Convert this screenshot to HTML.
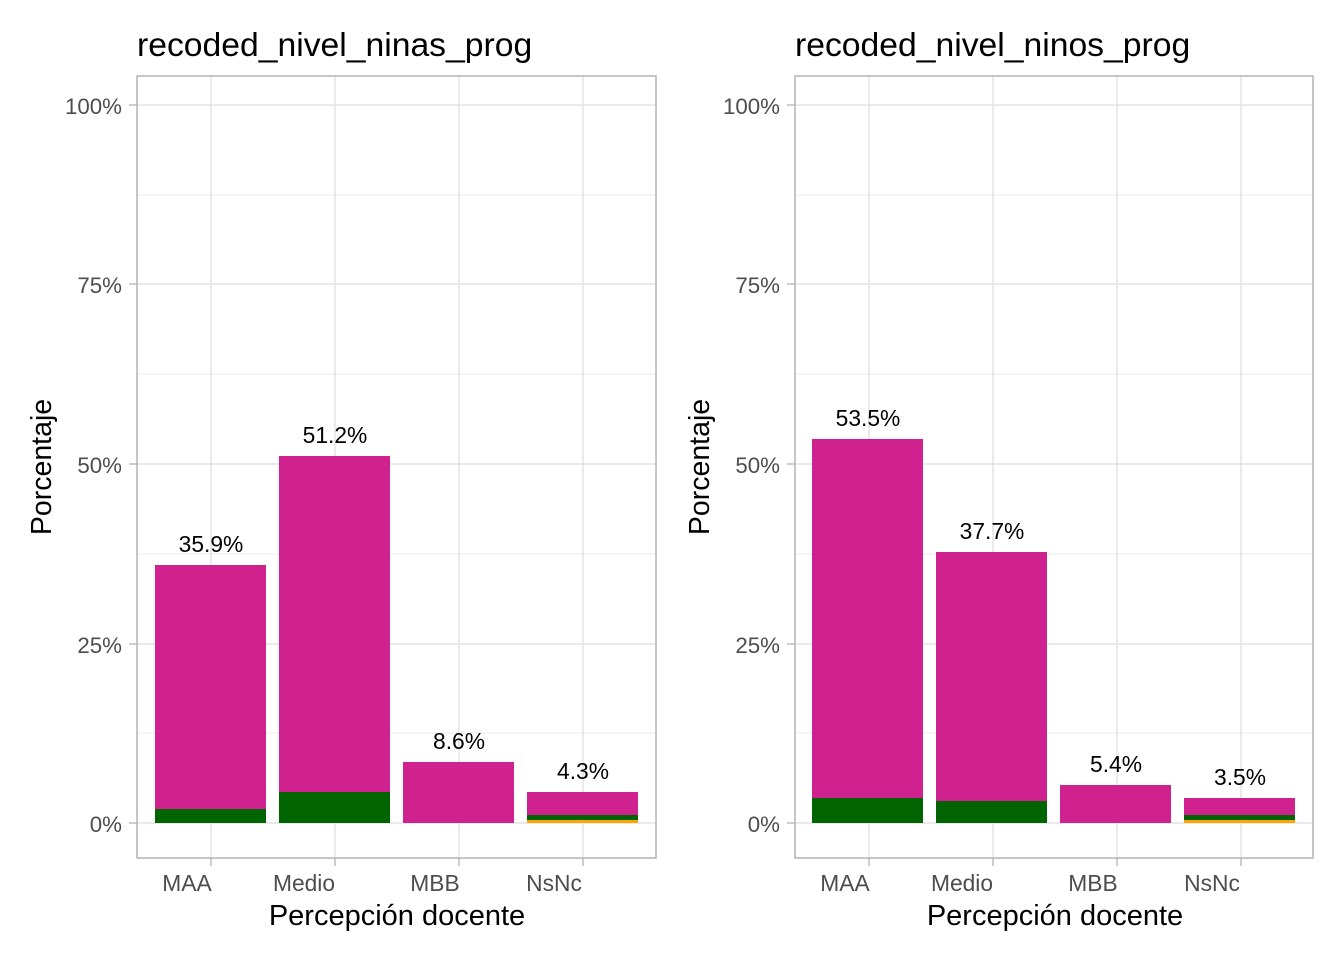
<!DOCTYPE html>
<html><head><meta charset="utf-8"><style>
html,body{margin:0;padding:0;background:#fff;}
svg text{font-family:"Liberation Sans",Arial,sans-serif;}
</style></head><body>
<svg width="1344" height="960" viewBox="0 0 1344 960" xmlns="http://www.w3.org/2000/svg">
<defs>
<g id="frame">
  <g stroke="#ebebeb" stroke-width="1">
    <line x1="137" x2="656" y1="195" y2="195"/><line x1="137" x2="656" y1="374" y2="374"/>
    <line x1="137" x2="656" y1="554" y2="554"/><line x1="137" x2="656" y1="733" y2="733"/>
  </g>
  <g stroke="#dedede" stroke-width="1.3">
    <line x1="137" x2="656" y1="105" y2="105"/><line x1="137" x2="656" y1="284" y2="284"/>
    <line x1="137" x2="656" y1="464" y2="464"/><line x1="137" x2="656" y1="644" y2="644"/>
    <line x1="137" x2="656" y1="823" y2="823"/>
    <line x1="211" x2="211" y1="76" y2="858"/><line x1="335" x2="335" y1="76" y2="858"/>
    <line x1="459" x2="459" y1="76" y2="858"/><line x1="583" x2="583" y1="76" y2="858"/>
  </g>
  <g stroke="#b3b3b3" stroke-width="1.3">
    <line x1="129" x2="137" y1="105" y2="105"/><line x1="129" x2="137" y1="284" y2="284"/>
    <line x1="129" x2="137" y1="464" y2="464"/><line x1="129" x2="137" y1="644" y2="644"/>
    <line x1="129" x2="137" y1="823" y2="823"/>
    <line x1="211" x2="211" y1="858" y2="866"/><line x1="335" x2="335" y1="858" y2="866"/>
    <line x1="459" x2="459" y1="858" y2="866"/><line x1="583" x2="583" y1="858" y2="866"/>
  </g>
  <g fill="#4d4d4d" font-size="22.3" text-anchor="end">
    <text x="122" y="114">100%</text><text x="122" y="293">75%</text>
    <text x="122" y="473">50%</text><text x="122" y="653">25%</text>
    <text x="122" y="832">0%</text>
  </g>
  <g fill="#4d4d4d" font-size="22.8" text-anchor="middle">
    <text x="187" y="891">MAA</text><text x="304" y="891">Medio</text>
    <text x="435" y="891">MBB</text><text x="554" y="891">NsNc</text>
  </g>
  <text x="397" y="925" font-size="29" text-anchor="middle" fill="#000">Percepción docente</text>
  <text transform="translate(51,467) rotate(-90)" font-size="28.5" text-anchor="middle" fill="#000">Porcentaje</text>
</g>
</defs>

<use href="#frame"/>
<text x="137" y="56" font-size="33.7" fill="#000">recoded_nivel_ninas_prog</text>
<g>
  <rect x="155" y="565" width="111" height="258" fill="#d0228f"/>
  <rect x="155" y="809" width="111" height="14" fill="#006400"/>
  <rect x="279" y="456" width="111" height="367" fill="#d0228f"/>
  <rect x="279" y="792" width="111" height="31" fill="#006400"/>
  <rect x="403" y="762" width="111" height="61" fill="#d0228f"/>
  <rect x="527" y="792" width="111" height="31" fill="#d0228f"/>
  <rect x="527" y="815" width="111" height="5" fill="#006400"/>
  <rect x="527" y="820" width="111" height="3" fill="#ffa500"/>
  <g font-size="22.8" text-anchor="middle" fill="#000">
    <text x="211" y="552">35.9%</text><text x="335" y="443">51.2%</text>
    <text x="459" y="749">8.6%</text><text x="583" y="779">4.3%</text>
  </g>
</g>
<rect x="137" y="76" width="519" height="782" fill="none" stroke="#b3b3b3" stroke-width="1.5"/>

<g transform="translate(658,0)">
  <use href="#frame"/>
  <text x="137" y="56" font-size="33.7" fill="#000">recoded_nivel_ninos_prog</text>
  <rect x="154" y="439" width="111" height="384" fill="#d0228f"/>
  <rect x="154" y="798" width="111" height="25" fill="#006400"/>
  <rect x="278" y="552" width="111" height="271" fill="#d0228f"/>
  <rect x="278" y="801" width="111" height="22" fill="#006400"/>
  <rect x="402" y="785" width="111" height="38" fill="#d0228f"/>
  <rect x="526" y="798" width="111" height="25" fill="#d0228f"/>
  <rect x="526" y="815" width="111" height="5" fill="#006400"/>
  <rect x="526" y="820" width="111" height="3" fill="#ffa500"/>
  <g font-size="22.8" text-anchor="middle" fill="#000">
    <text x="210" y="426">53.5%</text><text x="334" y="539">37.7%</text>
    <text x="458" y="772">5.4%</text><text x="582" y="785">3.5%</text>
  </g>
  <rect x="137" y="76" width="518" height="782" fill="none" stroke="#b3b3b3" stroke-width="1.5"/>
</g>
</svg>
</body></html>
